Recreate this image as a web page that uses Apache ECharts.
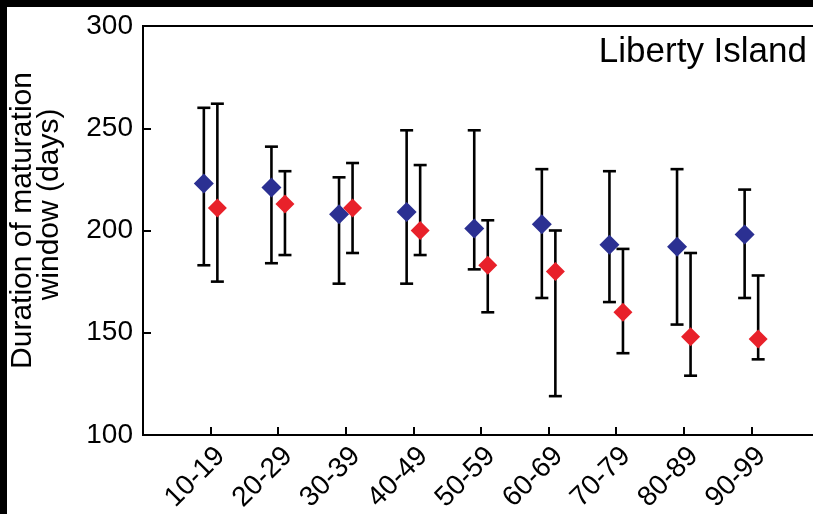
<!DOCTYPE html>
<html>
<head>
<meta charset="utf-8">
<script src="https://cdn.jsdelivr.net/npm/echarts@6/dist/echarts.min.js"></script>
<style>
  html, body { margin: 0; padding: 0; background: #ffffff; overflow: hidden; }
  #chart { width: 813px; height: 514px; }
</style>
</head>
<body>
<div id="chart"></div>
<script>
// Age classes along the x axis
const categories = ['10-19', '20-29', '30-39', '40-49', '50-59', '60-69', '70-79', '80-89', '90-99'];

// Blue series: mean duration with lower/upper error limits (days)
const blueMean = [223, 221, 208, 209, 201, 203, 193, 192, 198];
const blueLow  = [183, 184, 174, 174, 181, 167, 165, 154, 167];
const blueHigh = [260, 241, 226, 249, 249, 230, 229, 230, 220];

// Red series: mean duration with lower/upper error limits (days)
const redMean = [211, 213, 211, 200, 183, 180, 160, 148, 147];
const redLow  = [175, 188, 189, 188, 160, 119, 140, 129, 137];
const redHigh = [262, 229, 233, 232, 205, 200, 191, 189, 178];

const yTicks = [100, 150, 200, 250, 300];

const BLUE = '#2b3092';
const RED = '#e8212a';
const FONT = '"Liberation Sans", Arial, Helvetica, sans-serif';
const SHIFT = 0.1; // horizontal offset of each series from its category centre

const chart = echarts.init(document.getElementById('chart'));

function pointData(mean, dx) {
  return mean.map((v, i) => [i + 1 + dx, v]);
}
function barData(low, high, dx) {
  return low.map((v, i) => [i + 1 + dx, v, high[i]]);
}

function renderErrorBar(params, api) {
  const x = api.value(0);
  const lo = api.coord([x, api.value(1)]);
  const hi = api.coord([x, api.value(2)]);
  const cap = 6.5;
  const style = { stroke: '#000', lineWidth: 2.6 };
  return {
    type: 'group',
    children: [
      { type: 'line', shape: { x1: lo[0], y1: lo[1], x2: hi[0], y2: hi[1] }, style },
      { type: 'line', shape: { x1: hi[0] - cap, y1: hi[1], x2: hi[0] + cap, y2: hi[1] }, style },
      { type: 'line', shape: { x1: lo[0] - cap, y1: lo[1], x2: lo[0] + cap, y2: lo[1] }, style }
    ]
  };
}

chart.setOption({
  animation: false,
  backgroundColor: '#ffffff',
  textStyle: { fontFamily: FONT },
  title: {
    text: 'Liberty Island',
    right: 1,
    top: 30,
    textStyle: { fontFamily: FONT, fontSize: 35, fontWeight: 'normal', color: '#000' }
  },
  grid: {
    left: 143, top: 26, width: 676, height: 409,
    containLabel: false,
    outerBoundsMode: 'none',
    show: true, borderColor: '#000', borderWidth: 2, backgroundColor: 'transparent'
  },
  xAxis: {
    type: 'value',
    min: 0, max: 10, interval: 1,
    splitLine: { show: false },
    axisLine: { show: true, lineStyle: { color: '#000', width: 2 } },
    axisTick: { show: true, inside: true, length: 8, lineStyle: { color: '#000', width: 2 } },
    axisLabel: {
      rotate: 45, margin: 7, verticalAlign: 'top',
      fontSize: 28, color: '#000', fontFamily: FONT,
      formatter: v => (v >= 1 && v <= categories.length ? categories[v - 1] : '')
    }
  },
  yAxis: {
    type: 'value',
    min: yTicks[0], max: yTicks[yTicks.length - 1], interval: 50,
    name: 'Duration of maturation\n{w|window (days)}',
    nameLocation: 'middle', nameRotate: 90, nameGap: 80,
    nameTextStyle: {
      fontSize: 30, color: '#000', fontFamily: FONT, lineHeight: 27,
      padding: [0, 0, 0, 20],
      rich: { w: { fontSize: 30, color: '#000', fontFamily: FONT, lineHeight: 27, padding: [0, 0, 0, 32] } }
    },
    splitLine: { show: false },
    axisLine: { show: true, lineStyle: { color: '#000', width: 2 } },
    axisTick: { show: true, inside: true, length: 8, lineStyle: { color: '#000', width: 2 } },
    axisLabel: { fontSize: 28, color: '#000', margin: 10, fontFamily: FONT }
  },
  series: [
    { type: 'custom', renderItem: renderErrorBar, data: barData(blueLow, blueHigh, -SHIFT), z: 2, clip: false },
    { type: 'custom', renderItem: renderErrorBar, data: barData(redLow, redHigh, SHIFT), z: 2, clip: false },
    { type: 'scatter', data: pointData(blueMean, -SHIFT), symbol: 'diamond', symbolSize: [20, 20],
      itemStyle: { color: BLUE, opacity: 1 }, z: 3 },
    { type: 'scatter', data: pointData(redMean, SHIFT), symbol: 'diamond', symbolSize: [19, 19],
      itemStyle: { color: RED, opacity: 1 }, z: 4 }
  ],
  graphic: [
    { type: 'rect', left: 0, top: 0, shape: { width: 813, height: 7 }, style: { fill: '#000' }, z: 100 },
    { type: 'rect', left: 0, top: 0, shape: { width: 7, height: 514 }, style: { fill: '#000' }, z: 100 }
  ]
});
</script>
</body>
</html>
